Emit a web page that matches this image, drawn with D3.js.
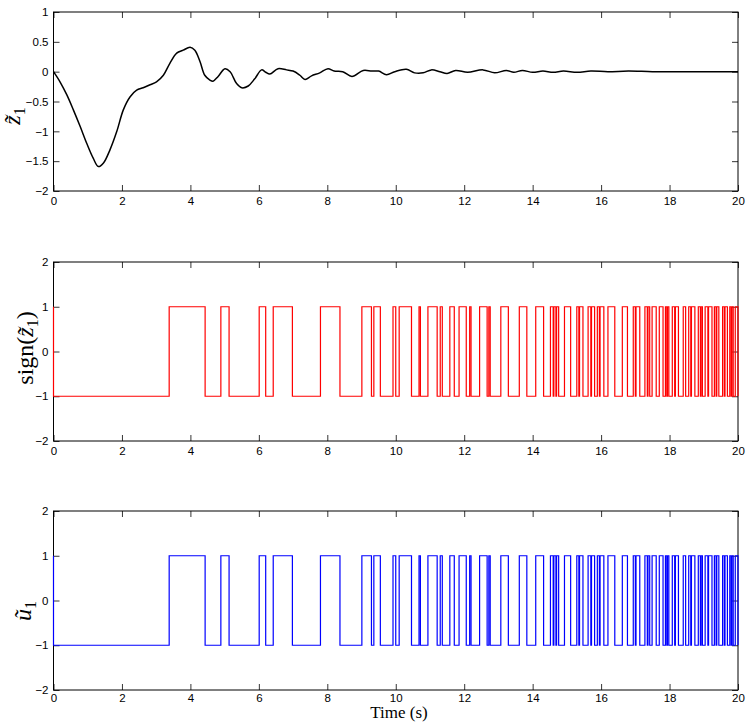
<!DOCTYPE html>
<html>
<head>
<meta charset="utf-8">
<script src="https://cdn.jsdelivr.net/npm/d3@7"></script>
<style>
  body { margin: 0; background: #fff; }
</style>
</head>
<body>
<div id="chart"></div>
<script>
let timeTicks = [0, 2, 4, 6, 8, 10, 12, 14, 16, 18, 20];
let z1Ticks = [-2, -1.5, -1, -0.5, 0, 0.5, 1];
let signTicks = [-2, -1, 0, 1, 2];

// [time, z1]
let z1Series = [
  [0, 0], [0.19, -0.17], [0.39, -0.39], [0.58, -0.64], [0.78, -0.92], [0.97, -1.2],
  [1.16, -1.45], [1.31, -1.59], [1.46, -1.53], [1.65, -1.31], [1.85, -1.0], [2.04, -0.64],
  [2.24, -0.42], [2.43, -0.31], [2.62, -0.27], [2.82, -0.22], [3.01, -0.17], [3.21, -0.06],
  [3.4, 0.14], [3.6, 0.31], [3.79, 0.36], [3.99, 0.41], [4.13, 0.36], [4.28, 0.17],
  [4.42, -0.06], [4.57, -0.14], [4.66, -0.16], [4.81, -0.08], [5.01, 0.05], [5.16, 0.0],
  [5.35, -0.2], [5.5, -0.27], [5.69, -0.24], [5.88, -0.12], [6.08, 0.03], [6.2, -0.01],
  [6.32, -0.04], [6.56, 0.05], [6.81, 0.03], [7.0, 0.01], [7.2, -0.06], [7.35, -0.13],
  [7.54, -0.07], [7.78, -0.02], [8.02, 0.05], [8.2, 0.01], [8.45, 0.0], [8.72, -0.08],
  [9.05, 0.02], [9.3, 0.01], [9.5, 0.01], [9.73, -0.05], [9.97, 0.0], [10.31, 0.04],
  [10.55, -0.02], [10.8, -0.02], [11.04, 0.03], [11.29, 0.0], [11.5, -0.03],
  [11.75, 0.02], [12.1, -0.01], [12.55, 0.03], [12.89, -0.02],
  [13.23, 0.02], [13.45, -0.01], [13.7, 0.02], [14.0, -0.01], [14.3, 0.01], [14.6, -0.01],
  [14.9, 0.01], [15.3, -0.01], [15.7, 0.01], [16.2, 0.0], [16.8, 0.01], [17.5, 0.0],
  [18.3, 0.0], [19.2, 0.0], [20, 0.0]
];

// times where sign(z1) flips; level is +1 at t = 0
let signSwitches = [
  0, 3.38, 4.43, 4.89, 5.13, 6.01, 6.2, 6.42, 6.98, 7.8, 8.37, 9.01, 9.29, 9.36, 9.55,
  9.92, 10.0, 10.1, 10.46, 10.68, 10.72, 10.94, 11.21, 11.3, 11.36, 11.58, 11.71,
  11.85, 12.06, 12.16, 12.2, 12.45, 12.67, 12.72, 12.76, 13.07, 13.29, 13.61, 13.83,
  14.09, 14.32, 14.52, 14.6, 14.62, 14.68, 14.7, 14.76, 14.93, 15.11, 15.29, 15.35,
  15.37, 15.47, 15.62, 15.7, 15.72, 15.81, 15.89, 15.95, 15.97, 16.08, 16.2, 16.4,
  16.62, 16.77, 16.94, 17.0, 17.02, 17.13, 17.28, 17.35, 17.37, 17.42, 17.49, 17.61,
  17.7, 17.81, 17.88, 17.92, 17.94, 17.98, 18.08, 18.15, 18.17, 18.26, 18.4, 18.47,
  18.56, 18.62, 18.64, 18.74, 18.84, 18.9, 18.92, 18.96, 19.04, 19.12, 19.14, 19.24,
  19.31, 19.36, 19.38, 19.44, 19.55, 19.6, 19.62, 19.69, 19.76, 19.8, 19.82, 19.86,
  19.92, 20
];
// the bottom panel switches at the same instants
let u1Switches = signSwitches;

let width = 747, height = 722;
let left = 53.5, right = 738;
let panelH = 179;
let tickFont = "'Liberation Sans', Arial, Helvetica, sans-serif";
let labelFont = "'Liberation Serif', 'Times New Roman', serif";

let svg = d3.select("#chart")
    .append("svg")
    .attr("width", width)
    .attr("height", height)
    .style("background", "#fff");

let x = d3.scaleLinear().domain([0, 20]).range([left, right]);
let fmt = d => d3.format("~g")(d);

function drawPanel(top, yTicks, pad) {
    let y = d3.scaleLinear().domain(d3.extent(yTicks)).range([top + panelH, top]);
    let g = svg.append("g");
    g.append("g").attr("transform", `translate(0,${top + panelH})`)
        .call(d3.axisBottom(x).tickValues(timeTicks).tickSize(-6).tickPadding(pad).tickFormat(fmt));
    g.append("g").attr("transform", `translate(0,${top})`)
        .call(d3.axisTop(x).tickValues(timeTicks).tickSize(-6).tickFormat(""));
    g.append("g").attr("transform", `translate(${left},0)`)
        .call(d3.axisLeft(y).tickValues(yTicks).tickSize(-6).tickPadding(5).tickFormat(fmt));
    g.append("g").attr("transform", `translate(${right},0)`)
        .call(d3.axisRight(y).tickValues(yTicks).tickSize(-6).tickFormat(""));
    g.selectAll(".domain").remove();
    g.selectAll(".tick line").attr("stroke", "#000").attr("stroke-width", 0.8);
    g.selectAll(".tick text")
        .attr("font-family", tickFont)
        .attr("font-size", 11.5)
        .attr("fill", "#000");
    g.append("rect")
        .attr("x", left).attr("y", top)
        .attr("width", right - left).attr("height", panelH)
        .attr("fill", "none").attr("stroke", "#000").attr("stroke-width", 1);
    return {g: g, y: y};
}

function stepPoints(switches) {
    let level = 1;
    let pts = [[0, level]];
    switches.forEach(t => { level = -level; pts.push([t, level]); });
    pts.push([20, level]);
    return pts;
}

function yLabel(cx, cy, parts) {
    let t = svg.append("text")
        .attr("transform", `translate(${cx},${cy}) rotate(-90)`)
        .attr("text-anchor", "middle")
        .attr("font-family", labelFont)
        .attr("fill", "#000");
    parts.forEach(p => {
        let s = t.append("tspan").text(p.text).attr("font-size", p.size);
        if (p.italic) s.attr("font-style", "italic");
        if (p.dy) s.attr("dy", p.dy);
    });
}

// top panel: z1
let p1 = drawPanel(12, z1Ticks, 6);
p1.g.append("path")
    .datum(z1Series)
    .attr("fill", "none")
    .attr("stroke", "#000")
    .attr("stroke-width", 1.5)
    .attr("d", d3.line().x(d => x(d[0])).y(d => p1.y(d[1])).curve(d3.curveCatmullRom.alpha(0.5)));

// middle panel: sign(z1)
let p2 = drawPanel(262, signTicks, 6);
p2.g.append("path")
    .datum(stepPoints(signSwitches))
    .attr("fill", "none")
    .attr("stroke", "#ff0000")
    .attr("stroke-width", 1.2)
    .attr("d", d3.line().x(d => x(d[0])).y(d => p2.y(d[1])).curve(d3.curveStepAfter));

// bottom panel: u1
let p3 = drawPanel(511, signTicks, 4);
p3.g.append("path")
    .datum(stepPoints(u1Switches))
    .attr("fill", "none")
    .attr("stroke", "#0000ff")
    .attr("stroke-width", 1.2)
    .attr("d", d3.line().x(d => x(d[0])).y(d => p3.y(d[1])).curve(d3.curveStepAfter));

yLabel(20, 116, [
    {text: "z\u0303", size: 24, italic: true},
    {text: "1", size: 16, dy: 5}
]);
yLabel(33, 348, [
    {text: "sign(", size: 24},
    {text: "z\u0303", size: 24, italic: true},
    {text: "1", size: 16, dy: 5},
    {text: ")", size: 24, dy: -5}
]);
yLabel(31, 611, [
    {text: "u\u0303", size: 24, italic: true},
    {text: "1", size: 16, dy: 5}
]);

svg.append("text")
    .attr("x", 399).attr("y", 718)
    .attr("text-anchor", "middle")
    .attr("font-family", labelFont)
    .attr("font-size", 17)
    .attr("fill", "#000")
    .text("Time (s)");
</script>
</body>
</html>
